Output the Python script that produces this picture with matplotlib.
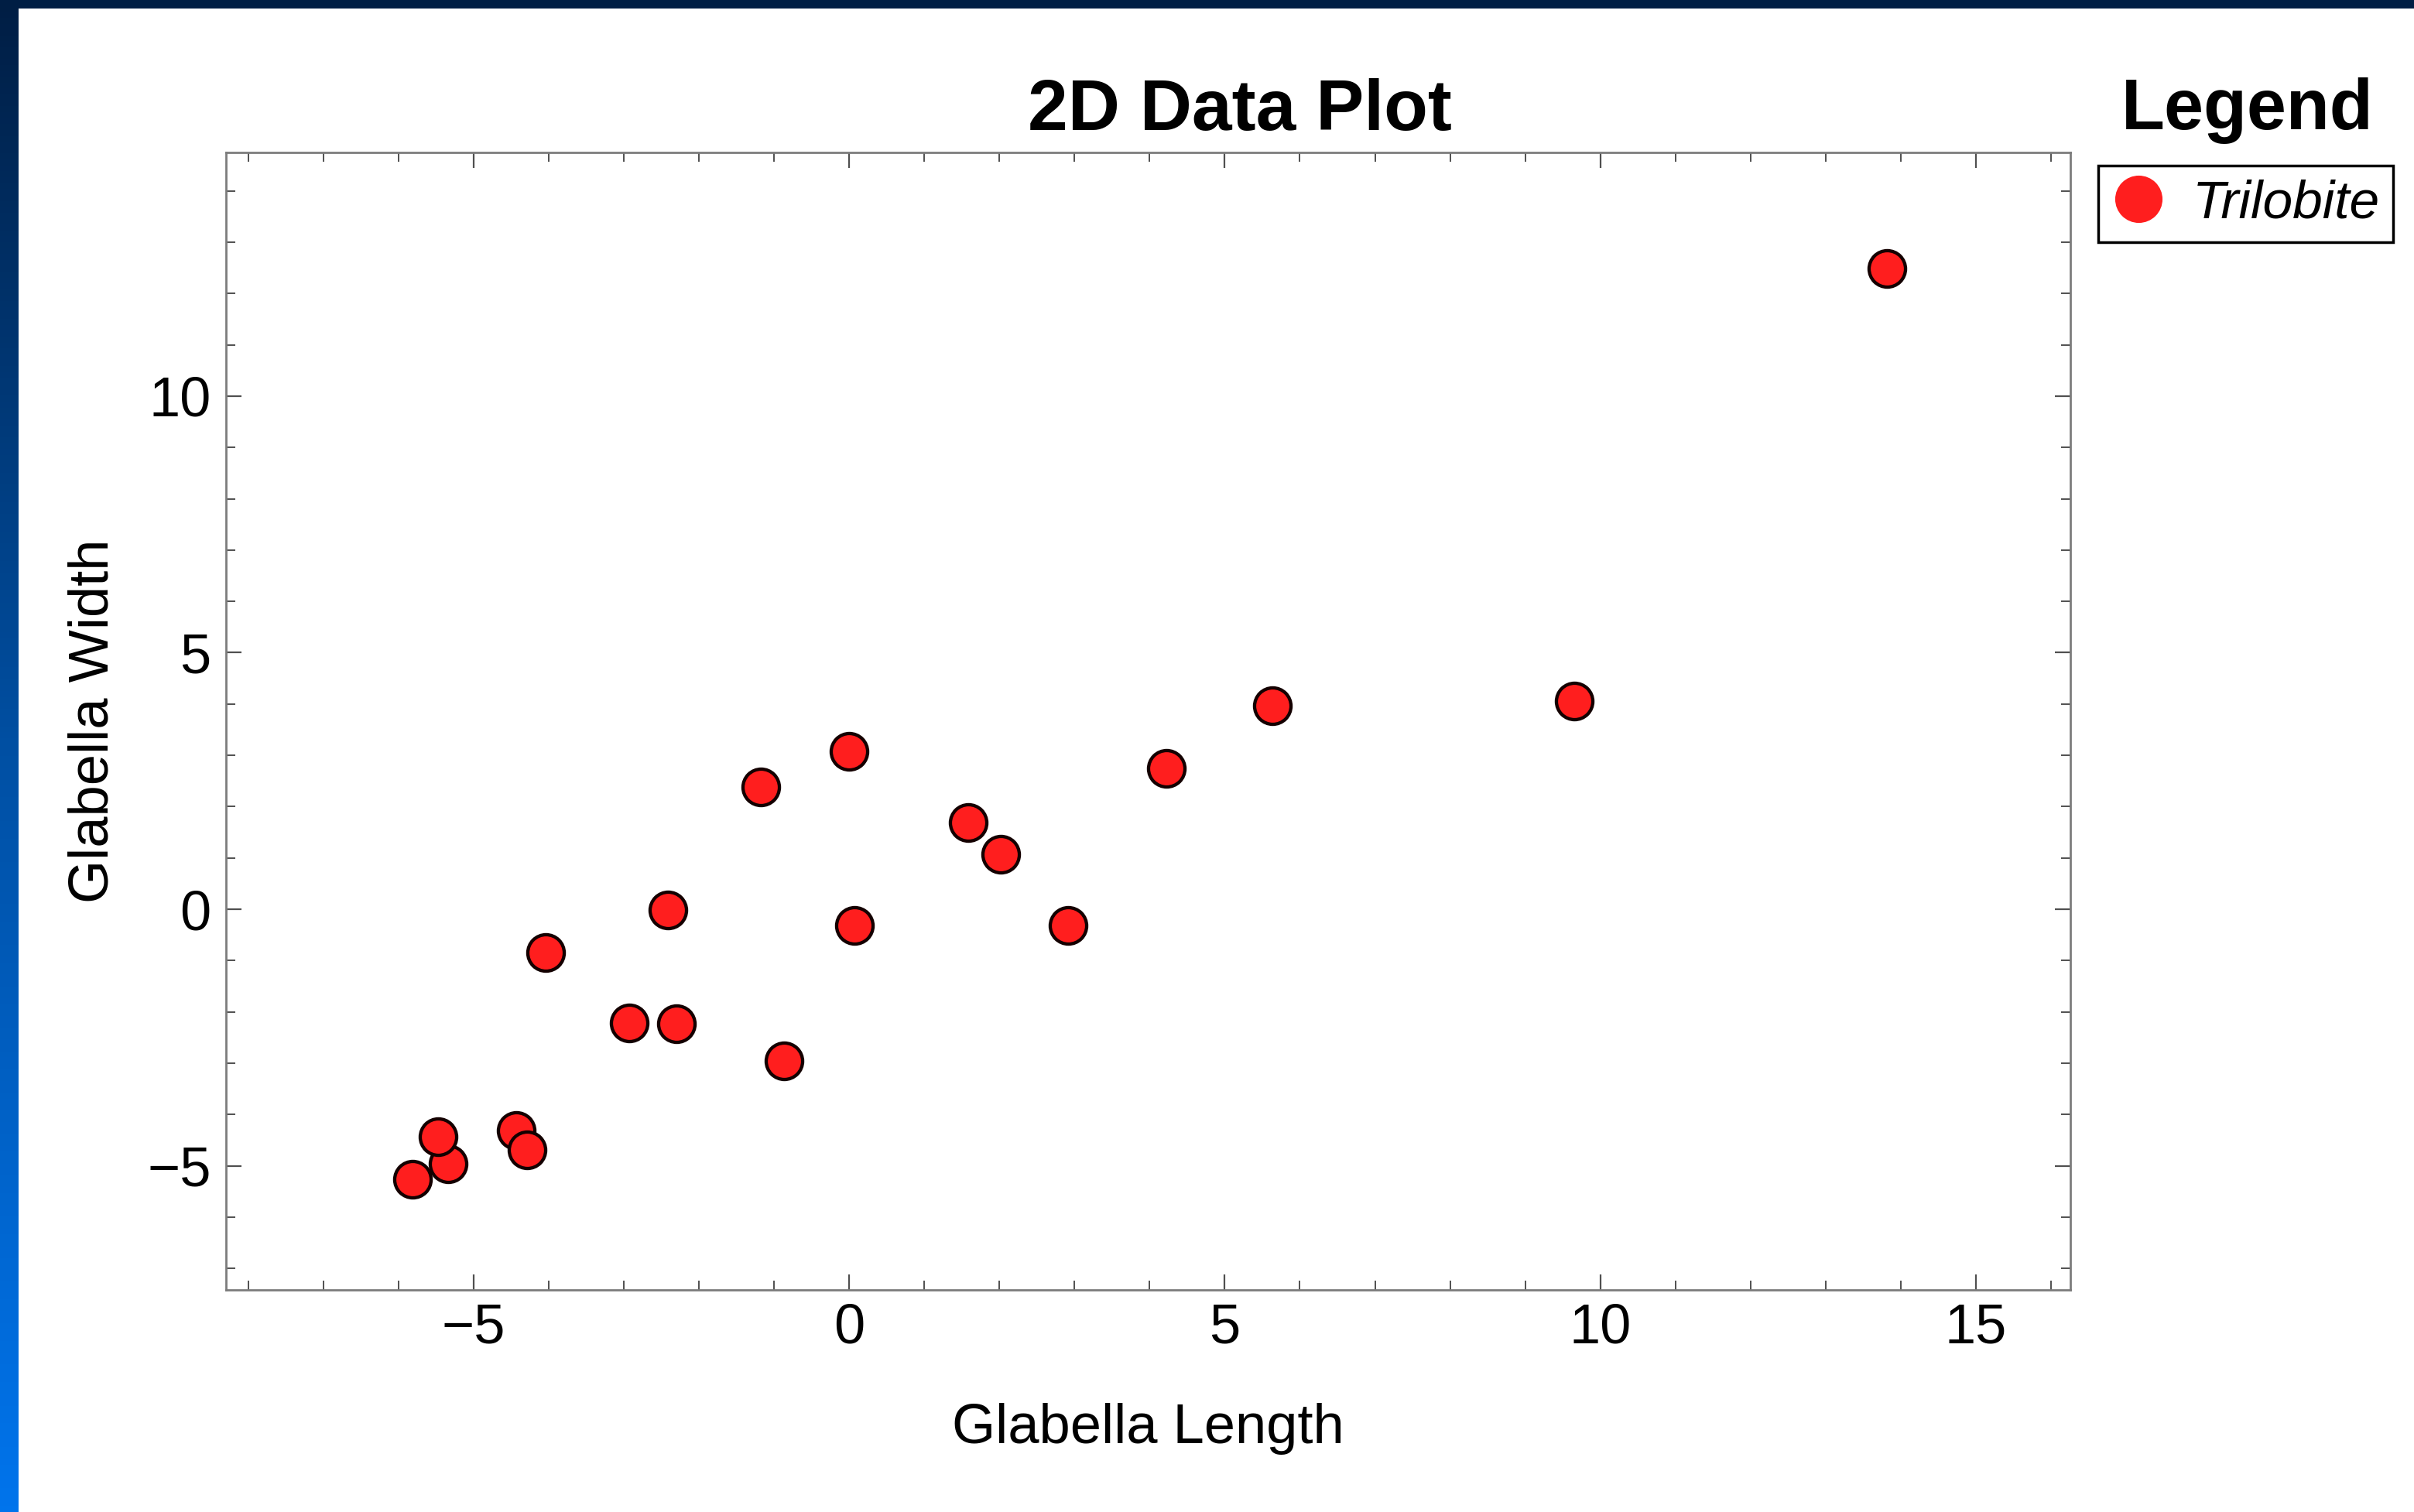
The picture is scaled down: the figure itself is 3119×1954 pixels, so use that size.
import numpy as np
import matplotlib
matplotlib.use("Agg")
import matplotlib.pyplot as plt
from matplotlib.colors import LinearSegmentedColormap
from matplotlib.lines import Line2D
from matplotlib.patches import Rectangle
from matplotlib.ticker import MultipleLocator

# Trilobite glabella measurements.
glabellaLength = [
    13.82, 9.65, 5.63, 4.22, 0.00, -1.18, 1.58, 2.02, 2.91, 0.07,
    -2.41, -4.04, -2.93, -2.30, -0.87, -4.43, -4.29, -5.82, -5.34, -5.48
]
glabellaWidth = [
    12.49, 4.06, 3.96, 2.75, 3.08, 2.39, 1.69, 1.07, -0.31, -0.31,
    -0.01, -0.84, -2.22, -2.23, -2.95, -4.31, -4.69, -5.27, -4.96, -4.43
]
seriesName = "Trilobite"
xTicks = [-5, 0, 5, 10, 15]
yTicks = [-5, 0, 5, 10]


def plotScatter(output="out.png"):
    """
    Scatter of glabella width against length on a slide-style backdrop.
    """
    plt.rcParams["font.family"] = ["Liberation Sans", "DejaVu Sans"]
    W, H = 3119, 1954
    fig = plt.figure(figsize=(W/100, H/100), dpi=100)

    # Blue gradient frame with a white panel on top.
    bg = fig.add_axes([0, 0, 1, 1], zorder=-10)
    cmap = LinearSegmentedColormap.from_list(
        "frame", [(0, "#0074ec"), (0.5, "#0050a4"), (1, "#001e44")]
    )
    bg.imshow(np.linspace(0, 1, 256).reshape(-1, 1)[::-1], cmap=cmap,
              aspect="auto", extent=[0, 1, 0, 1], origin="upper")
    bg.add_patch(Rectangle((24/W, 0), 1, 1 - 11/H, facecolor="white",
                           edgecolor="none", transform=bg.transAxes))
    bg.set_xlim(0, 1); bg.set_ylim(0, 1)
    bg.set_axis_off()

    # Main plot area.
    left, right, top, bottom = 292, 2675, 197, 1667
    ax = fig.add_axes([left/W, 1 - bottom/H, (right - left)/W, (bottom - top)/H])
    ax.scatter(glabellaLength, glabellaWidth, s=1150, color="#ff1e1e",
               edgecolors="#140000", linewidths=3.1, zorder=3)

    ax.set_xlim(-8.30, 16.26)
    ax.set_ylim(-7.42, 14.75)
    ax.set_xticks(xTicks)
    ax.set_yticks(yTicks)
    ax.xaxis.set_minor_locator(MultipleLocator(1))
    ax.yaxis.set_minor_locator(MultipleLocator(1))
    ax.tick_params(which="both", direction="in", top=True, right=True,
                   color="#505050", labelsize=52)
    ax.tick_params(which="major", length=14.5, width=1.6)
    ax.tick_params(which="minor", length=8.5, width=1.4)
    ax.tick_params(axis="x", pad=12)
    ax.tick_params(axis="y", pad=14)
    for spine in ax.spines.values():
        spine.set_color("#7c7c7c")
        spine.set_linewidth(2.0)

    ax.set_xlabel("Glabella Length", fontsize=52)
    ax.set_ylabel("Glabella Width", fontsize=52)
    ax.xaxis.set_label_coords(0.5, -0.099)
    ax.yaxis.set_label_coords(-0.0575, 0.5)

    # Titles.
    fig.text(1602/W, 1 - 168/H, "2D Data Plot", fontsize=67, fontweight="bold",
             ha="center", va="baseline")
    fig.text(2904/W, 1 - 167/H, "Legend", fontsize=66, fontweight="bold",
             ha="center", va="baseline")

    # Legend box.
    handle = Line2D([], [], marker="o", ls="", color="#ff1e1e",
                    markersize=44, markeredgewidth=0)
    leg = ax.legend(
        [handle], [seriesName], loc="upper left",
        bbox_to_anchor=(2711/W, 1 - 214/H), bbox_transform=fig.transFigure,
        prop={"size": 50, "style": "italic"}, frameon=True, fancybox=False,
        borderaxespad=0, borderpad=0.25, handlelength=1.0, handletextpad=0.5,
        framealpha=1
    )
    leg.get_frame().set_edgecolor("black")
    leg.get_frame().set_linewidth(2.5)

    plt.savefig(output, dpi=100, facecolor="w")
    plt.close()


if __name__ == "__main__":
    plotScatter()
